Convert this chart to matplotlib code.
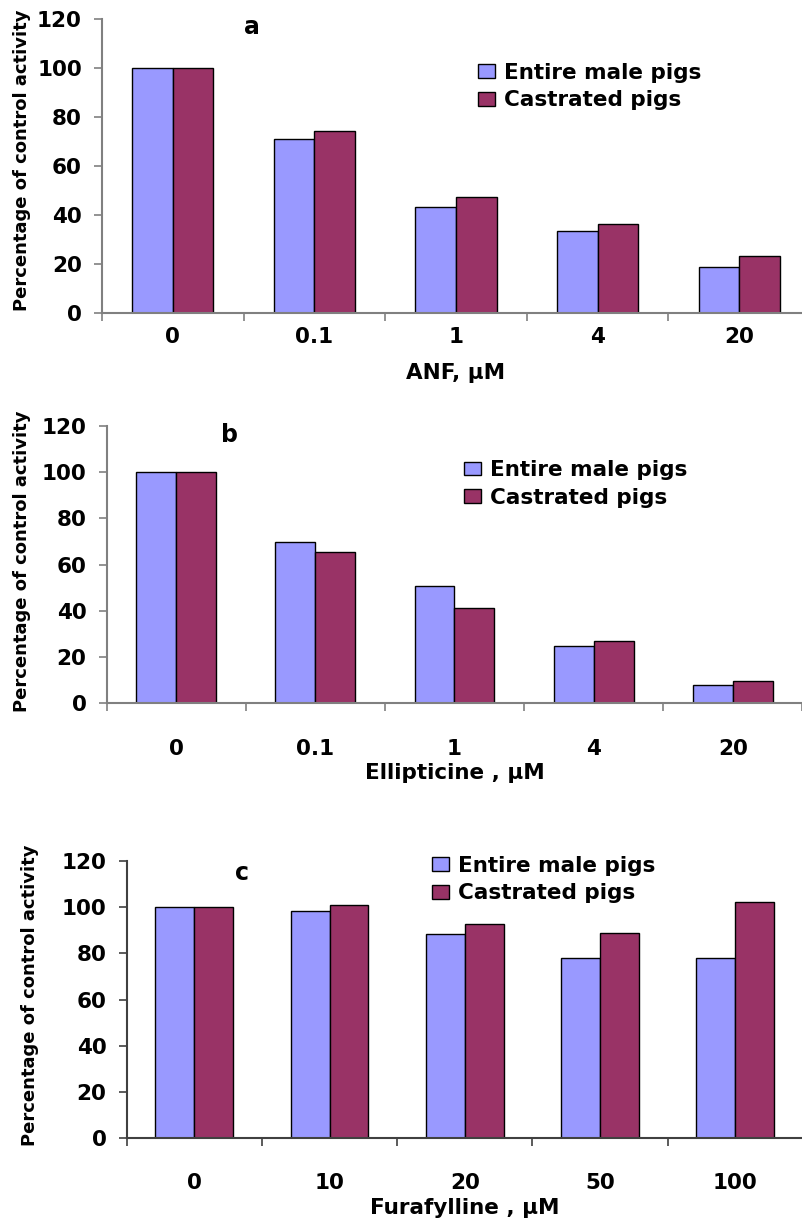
import matplotlib
matplotlib.use("Agg")
import matplotlib.pyplot as plt
from matplotlib.patches import Patch
import numpy as np

plt.rcParams['font.family'] = ['DejaVu Sans']

W, H = 803, 1218
DPI = 100

series_names = ["Entire male pigs", "Castrated pigs"]
colors = ["#9999FF", "#993366"]

# Panel a
cats_a = ["0", "0.1", "1", "4", "20"]
entire_a = [100, 70.9, 43.2, 33.5, 18.8]
castr_a = [100, 74.4, 47.4, 36.1, 23.2]
xlabel_a = "ANF, µM"

# Panel b
cats_b = ["0", "0.1", "1", "4", "20"]
entire_b = [100, 69.9, 50.6, 24.7, 7.8]
castr_b = [100, 65.5, 41.4, 27.0, 9.6]
xlabel_b = "Ellipticine , µM"

# Panel c
cats_c = ["0", "10", "20", "50", "100"]
entire_c = [100, 98.5, 88.3, 78.0, 78.0]
castr_c = [100, 101.1, 92.7, 89.0, 102.1]
xlabel_c = "Furafylline , µM"

yticks = [0, 20, 40, 60, 80, 100, 120]
ylabel = "Percentage of control activity"

fig = plt.figure(figsize=(W / DPI, H / DPI), dpi=DPI)


def px_axes(left, right, top, bottom):
    return fig.add_axes([left / W, 1 - bottom / H, (right - left) / W, (bottom - top) / H])


panels = [
    dict(cats=cats_a, e=entire_a, c=castr_a, xl=xlabel_a, letter="a",
         box=(102, 810, 19, 312.7), pad=10.5, xl_y=373, yl=(22.5, 160),
         let=(252, 27), leg=(478, 86.5), spine="#808080"),
    dict(cats=cats_b, e=entire_b, c=castr_b, xl=xlabel_b, letter="b",
         box=(106.7, 802.3, 426, 703.3), pad=25.5, xl_y=773, yl=(22.5, 561),
         let=(230, 435), leg=(464, 484), spine="#808080"),
    dict(cats=cats_c, e=entire_c, c=castr_c, xl=xlabel_c, letter="c",
         box=(126.7, 802.7, 861, 1138.3), pad=25, xl_y=1208, yl=(30, 995),
         let=(242, 873), leg=(432, 879.5), spine="#404040"),
]

bw = 0.287
for p in panels:
    ax = px_axes(*p["box"])
    n = len(p["cats"])
    centers = np.arange(n) + 0.5
    ax.bar(centers - bw / 2, p["e"], width=bw, color=colors[0], edgecolor="black", linewidth=1.0)
    ax.bar(centers + bw / 2, p["c"], width=bw, color=colors[1], edgecolor="black", linewidth=1.0)
    ax.set_xlim(0, n)
    ax.set_ylim(0, 120)
    ax.set_yticks(yticks)
    ax.set_yticklabels([str(v) for v in yticks], fontsize=15.5, fontweight="bold")
    ax.set_xticks(np.arange(n + 1))
    ax.set_xticklabels([])
    ax.set_xticks(centers, minor=True)
    ax.set_xticklabels(p["cats"], minor=True, fontsize=15.5, fontweight="bold")
    ax.tick_params(axis="x", which="minor", length=0, pad=p["pad"])
    ax.tick_params(axis="x", which="major", length=6, width=1.2, color=p["spine"], direction="out")
    ax.tick_params(axis="y", length=6, width=1.2, color=p["spine"], direction="out", pad=8.5)
    for s in ["top", "right"]:
        ax.spines[s].set_visible(False)
    for s in ["left", "bottom"]:
        ax.spines[s].set_color(p["spine"])
        ax.spines[s].set_linewidth(1.5)
    ax.set_ylabel(ylabel, fontsize=13, fontweight="bold", va="center")
    ax.yaxis.set_label_coords(p["yl"][0] / W, 1 - p["yl"][1] / H, transform=fig.transFigure)
    ax.set_xlabel(p["xl"], fontsize=15.5, fontweight="bold", va="center")
    bx = p["box"]
    ax.xaxis.set_label_coords(((bx[0] + bx[1]) / 2) / W, 1 - p["xl_y"] / H, transform=fig.transFigure)
    fig.text(p["let"][0] / W, 1 - p["let"][1] / H, p["letter"], fontsize=17, fontweight="bold",
             ha="center", va="center")
    handles = [Patch(facecolor=colors[i], edgecolor="black", linewidth=1.0) for i in range(2)]
    ax.legend(handles, series_names, loc="center left",
              bbox_to_anchor=(p["leg"][0] / W, 1 - p["leg"][1] / H), bbox_transform=fig.transFigure,
              frameon=False, prop=dict(size=15.5, weight="bold"), borderpad=0, borderaxespad=0,
              handlelength=0.79, handleheight=0.6, handletextpad=0.42, labelspacing=0.35)

fig.savefig("out.png", dpi=DPI)
